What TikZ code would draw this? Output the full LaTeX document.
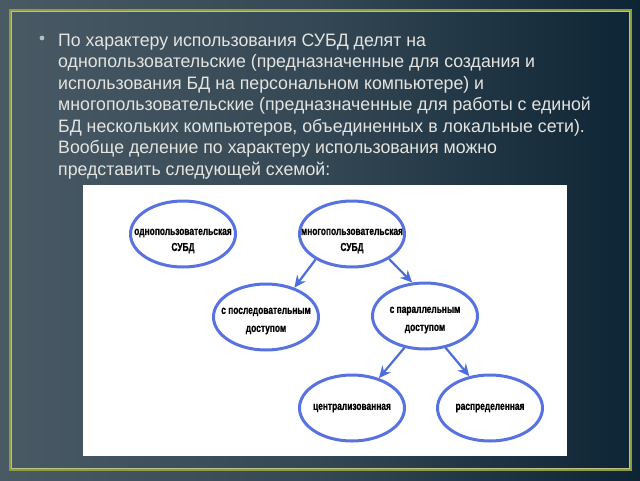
\documentclass[tikz,border=0pt]{standalone}
\usepackage{fontspec}
\setmainfont{Liberation Sans}[FakeStretch=0.985]
\newfontfamily\diagfont{Liberation Sans}[UprightFont=* Bold, FakeStretch=0.73, FakeBold=0.8]
\usetikzlibrary{shapes.geometric,arrows.meta,calc}
\definecolor{bgleft}{HTML}{495A65}
\definecolor{bgright}{HTML}{0D2434}
\definecolor{frameol}{HTML}{8E9C3C}
\definecolor{maintext}{HTML}{E4E4E0}
\definecolor{ellblue}{HTML}{5872E2}
\definecolor{arrblue}{HTML}{4C6EDC}
\tikzset{
  bline/.style={anchor=base west, inner sep=0pt, text=maintext, font=\fontsize{18}{21}\selectfont},
  dbnode/.style={ellipse, draw=ellblue, line width=3pt, fill=white,
    minimum width=105pt, minimum height=66pt, inner sep=0pt},
  dbtext/.style={align=center, inner sep=0pt, font=\diagfont\fontsize{11.5}{16}\selectfont},
  conn/.style={draw=arrblue, line width=2.2pt, -{Stealth[length=12pt,width=11pt,inset=4pt]}}
}
\begin{document}
\begin{tikzpicture}[x=1pt,y=-1pt]
\useasboundingbox (0,0) rectangle (640,480);
\shade[left color=bgleft, right color=bgright, middle color=bgleft!65!bgright] (0,0) rectangle (640,480);
\draw[frameol, line width=2pt] (10,10) rectangle (631,470);
\draw[frameol!60!white, line width=0.5pt] (11.5,11.5) rectangle (629.5,468.5);
\fill[maintext!70!bgleft] (42,38) circle (2.4);
\node[bline] (l1) at (58,46) {По характеру использования СУБД делят на};
\node[bline] (l2) at (58,67.5) {однопользовательские (предназначенные для создания и};
\node[bline] (l3) at (58,89) {использования БД на персональном компьютере) и};
\node[bline] (l4) at (58,110.5) {многопользовательские (предназначенные для работы с единой};
\node[bline] (l5) at (58,132) {БД нескольких компьютеров, объединенных в локальные сети).};
\node[bline] (l6) at (58,153.5) {Вообще деление по характеру использования можно};
\node[bline] (l7) at (58,175) {представить следующей схемой:};
\fill[white] (83,185) rectangle (567,456);
\node[dbnode, label={[dbtext, yshift=-7pt]center:{однопользовательская\\СУБД}}] (one) at (183,234) {};
\node[dbnode, label={[dbtext, yshift=-7pt]center:{многопользовательская\\СУБД}}] (multi) at (352,234) {};
\node[dbnode, label={[dbtext, yshift=-4pt, font=\diagfont\fontsize{11.5}{18}\selectfont]center:{с последовательным\\доступом}}] (seq) at (266,317) {};
\node[dbnode, label={[dbtext, yshift=-4pt, font=\diagfont\fontsize{11.5}{18}\selectfont]center:{с параллельным\\доступом}}] (par) at (425,316) {};
\node[dbnode, label={[dbtext]center:{централизованная}}] (cen) at (352,408) {};
\node[dbnode, label={[dbtext]center:{распределенная}}] (dist) at (490,408) {};
\draw[conn] (multi.215) -- (seq.46);
\draw[conn] (multi.326) -- (par.111);
\draw[conn] (par.237) -- (cen.48);
\draw[conn] (par.303) -- (dist.123);
\end{tikzpicture}
\end{document}
